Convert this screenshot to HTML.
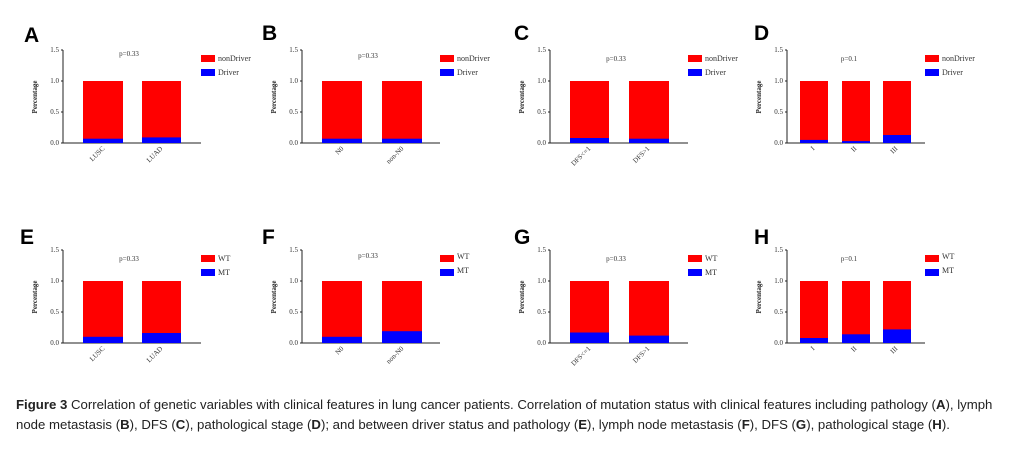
<!DOCTYPE html><html><head><meta charset="utf-8"><style>
body{margin:0;width:1015px;height:449px;background:#fff;overflow:hidden;position:relative}
svg{position:absolute;left:0;top:0}
.t{font-family:"Liberation Serif",serif;font-size:7px;fill:#333}
.yl{font-family:"Liberation Serif",serif;font-size:7px;font-weight:bold;fill:#222}
.lg{font-family:"Liberation Serif",serif;font-size:8px;fill:#333}
.L{font-family:"Liberation Sans",sans-serif;font-size:21px;font-weight:bold;fill:#000}
.cap{position:absolute;left:16px;top:395px;width:990px;font-family:"Liberation Sans",sans-serif;font-size:13.2px;line-height:20px;color:#222}
</style></head><body>
<svg width="1015" height="449" xmlns="http://www.w3.org/2000/svg">
<defs>
<g id="ax">
<line x1="0" y1="0" x2="0" y2="-93" stroke="#222" stroke-width="1"/>
<line x1="0" y1="0" x2="138" y2="0" stroke="#222" stroke-width="1"/>
<line x1="-2" y1="0" x2="0" y2="0" stroke="#222"/><line x1="-2" y1="-31" x2="0" y2="-31" stroke="#222"/><line x1="-2" y1="-62" x2="0" y2="-62" stroke="#222"/><line x1="-2" y1="-93" x2="0" y2="-93" stroke="#222"/>
<text class="t" x="-4" y="2" text-anchor="end">0.0</text>
<text class="t" x="-4" y="-29" text-anchor="end">0.5</text>
<text class="t" x="-4" y="-60" text-anchor="end">1.0</text>
<text class="t" x="-4" y="-91" text-anchor="end">1.5</text>
<text class="yl" transform="translate(-26,-46) rotate(-90)" text-anchor="middle">Percentage</text>
<rect x="138" y="-88" width="14" height="7" fill="#f00"/>
<rect x="138" y="-74" width="14" height="7" fill="#00f"/>
</g>
</defs>
<text class="L" x="24" y="42">A</text><text class="L" x="262" y="40">B</text><text class="L" x="514" y="40">C</text><text class="L" x="754" y="40">D</text>
<text class="L" x="20" y="244">E</text><text class="L" x="262" y="244">F</text><text class="L" x="514" y="244">G</text><text class="L" x="754" y="244">H</text>

<g transform="translate(63,143)"><use href="#ax"/><text class="lg" x="155" y="-82">nonDriver</text><text class="lg" x="155" y="-68">Driver</text><text class="t" x="66" y="-87" text-anchor="middle" font-size="8">p=0.33</text>
<rect x="20" y="-62" width="40" height="62" fill="#f00"/><rect x="20" y="-4.3" width="40" height="4.3" fill="#00f"/>
<rect x="79" y="-62" width="39" height="62" fill="#f00"/><rect x="79" y="-5.6" width="39" height="5.6" fill="#00f"/>
<text class="t" transform="translate(42,6) rotate(-45)" text-anchor="end">LUSC</text><text class="t" transform="translate(100,6) rotate(-45)" text-anchor="end">LUAD</text></g>

<g transform="translate(302,143)"><use href="#ax"/><text class="lg" x="155" y="-82">nonDriver</text><text class="lg" x="155" y="-68">Driver</text><text class="t" x="66" y="-85" text-anchor="middle" font-size="8">p=0.33</text>
<rect x="20" y="-62" width="40" height="62" fill="#f00"/><rect x="20" y="-4.3" width="40" height="4.3" fill="#00f"/>
<rect x="80" y="-62" width="40" height="62" fill="#f00"/><rect x="80" y="-4.3" width="40" height="4.3" fill="#00f"/>
<text class="t" transform="translate(42,6) rotate(-45)" text-anchor="end">N0</text><text class="t" transform="translate(102,6) rotate(-45)" text-anchor="end">non-N0</text></g>

<g transform="translate(550,143)"><use href="#ax"/><text class="lg" x="155" y="-82">nonDriver</text><text class="lg" x="155" y="-68">Driver</text><text class="t" x="66" y="-82" text-anchor="middle" font-size="8">p=0.33</text>
<rect x="20" y="-62" width="39" height="62" fill="#f00"/><rect x="20" y="-5" width="39" height="5" fill="#00f"/>
<rect x="79" y="-62" width="40" height="62" fill="#f00"/><rect x="79" y="-4.3" width="40" height="4.3" fill="#00f"/>
<text class="t" transform="translate(41,6) rotate(-45)" text-anchor="end">DFS&lt;=1</text><text class="t" transform="translate(100,6) rotate(-45)" text-anchor="end">DFS&gt;1</text></g>

<g transform="translate(787,143)"><use href="#ax"/><text class="lg" x="155" y="-82">nonDriver</text><text class="lg" x="155" y="-68">Driver</text><text class="t" x="62" y="-82" text-anchor="middle" font-size="8">p=0.1</text>
<rect x="13" y="-62" width="28" height="62" fill="#f00"/><rect x="13" y="-3.1" width="28" height="3.1" fill="#00f"/>
<rect x="55" y="-62" width="28" height="62" fill="#f00"/><rect x="55" y="-1.9" width="28" height="1.9" fill="#00f"/>
<rect x="96" y="-62" width="28" height="62" fill="#f00"/><rect x="96" y="-8" width="28" height="8" fill="#00f"/>
<text class="t" transform="translate(28,6) rotate(-45)" text-anchor="end">I</text><text class="t" transform="translate(70,6) rotate(-45)" text-anchor="end">II</text><text class="t" transform="translate(111,6) rotate(-45)" text-anchor="end">III</text></g>

<g transform="translate(63,343)"><use href="#ax"/><text class="lg" x="155" y="-82">WT</text><text class="lg" x="155" y="-68">MT</text><text class="t" x="66" y="-82" text-anchor="middle" font-size="8">p=0.33</text>
<rect x="20" y="-62" width="40" height="62" fill="#f00"/><rect x="20" y="-6.2" width="40" height="6.2" fill="#00f"/>
<rect x="79" y="-62" width="39" height="62" fill="#f00"/><rect x="79" y="-10" width="39" height="10" fill="#00f"/>
<text class="t" transform="translate(42,6) rotate(-45)" text-anchor="end">LUSC</text><text class="t" transform="translate(100,6) rotate(-45)" text-anchor="end">LUAD</text></g>

<g transform="translate(302,343)"><use href="#ax"/><text class="lg" x="155" y="-84">WT</text><text class="lg" x="155" y="-70">MT</text><text class="t" x="66" y="-85" text-anchor="middle" font-size="8">p=0.33</text>
<rect x="20" y="-62" width="40" height="62" fill="#f00"/><rect x="20" y="-6.2" width="40" height="6.2" fill="#00f"/>
<rect x="80" y="-62" width="40" height="62" fill="#f00"/><rect x="80" y="-11.8" width="40" height="11.8" fill="#00f"/>
<text class="t" transform="translate(42,6) rotate(-45)" text-anchor="end">N0</text><text class="t" transform="translate(102,6) rotate(-45)" text-anchor="end">non-N0</text></g>

<g transform="translate(550,343)"><use href="#ax"/><text class="lg" x="155" y="-82">WT</text><text class="lg" x="155" y="-68">MT</text><text class="t" x="66" y="-82" text-anchor="middle" font-size="8">p=0.33</text>
<rect x="20" y="-62" width="39" height="62" fill="#f00"/><rect x="20" y="-10.5" width="39" height="10.5" fill="#00f"/>
<rect x="79" y="-62" width="40" height="62" fill="#f00"/><rect x="79" y="-7.4" width="40" height="7.4" fill="#00f"/>
<text class="t" transform="translate(41,6) rotate(-45)" text-anchor="end">DFS&lt;=1</text><text class="t" transform="translate(100,6) rotate(-45)" text-anchor="end">DFS&gt;1</text></g>

<g transform="translate(787,343)"><use href="#ax"/><text class="lg" x="155" y="-84">WT</text><text class="lg" x="155" y="-70">MT</text><text class="t" x="62" y="-82" text-anchor="middle" font-size="8">p=0.1</text>
<rect x="13" y="-62" width="28" height="62" fill="#f00"/><rect x="13" y="-5" width="28" height="5" fill="#00f"/>
<rect x="55" y="-62" width="28" height="62" fill="#f00"/><rect x="55" y="-8.7" width="28" height="8.7" fill="#00f"/>
<rect x="96" y="-62" width="28" height="62" fill="#f00"/><rect x="96" y="-13.6" width="28" height="13.6" fill="#00f"/>
<text class="t" transform="translate(28,6) rotate(-45)" text-anchor="end">I</text><text class="t" transform="translate(70,6) rotate(-45)" text-anchor="end">II</text><text class="t" transform="translate(111,6) rotate(-45)" text-anchor="end">III</text></g>
</svg>
<div class="cap"><b>Figure 3</b> Correlation of genetic variables with clinical features in lung cancer patients. Correlation of mutation status with clinical features including pathology (<b>A</b>), lymph node metastasis (<b>B</b>), DFS (<b>C</b>), pathological stage (<b>D</b>); and between driver status and pathology (<b>E</b>), lymph node metastasis (<b>F</b>), DFS (<b>G</b>), pathological stage (<b>H</b>).</div>
</body></html>
